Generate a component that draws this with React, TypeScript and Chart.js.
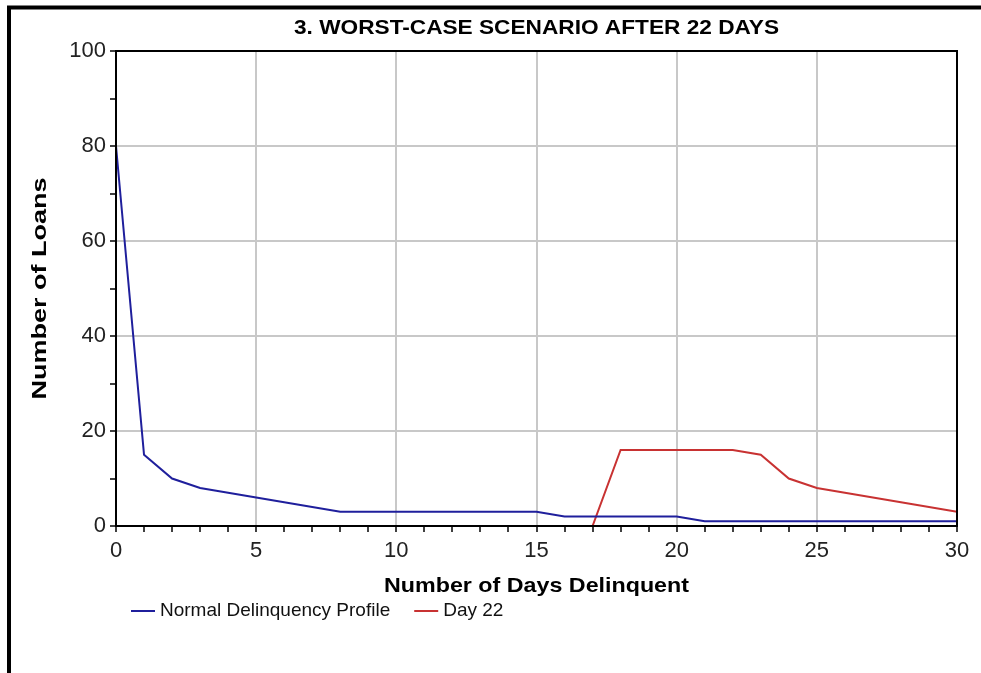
import React, { useEffect, useRef } from "react";
import { Chart, registerables } from "chart.js";

Chart.register(...registerables);

const days = Array.from({ length: 31 }, (_, i) => i);
const normalProfile = [80, 15, 10, 8, 7, 6, 5, 4, 3, 3, 3, 3, 3, 3, 3, 3, 2, 2, 2, 2, 2, 1, 1, 1, 1, 1, 1, 1, 1, 1, 1];
const day22 = [0, 0, 0, 0, 0, 0, 0, 0, 0, 0, 0, 0, 0, 0, 0, 0, 0, 0, 16, 16, 16, 16, 16, 15, 10, 8, 7, 6, 5, 4, 3];
const seriesLabels = ["Normal Delinquency Profile", "Day 22"];
const chartTitle = "3. WORST-CASE SCENARIO AFTER 22 DAYS";
const xTitle = "Number of Days Delinquent";
const yTitle = "Number of Loans";

const BLUE = "#1f1f9c";
const RED = "#c83232";
const GRID = "#c8c8c8";
const FONT = "'Liberation Sans', Arial, sans-serif";

function drawFitted(ctx: CanvasRenderingContext2D, text: string, cx: number, cy: number, width: number, font: string, rotate = 0) {
  ctx.save();
  ctx.font = font;
  const w = ctx.measureText(text).width;
  ctx.translate(cx, cy);
  if (rotate) ctx.rotate(rotate);
  ctx.scale(width / w, 1);
  ctx.textAlign = "center";
  ctx.textBaseline = "middle";
  ctx.fillStyle = "#000";
  ctx.fillText(text, 0, 0);
  ctx.restore();
}

const decorPlugin = {
  id: "decor",
  afterDraw(chart: any) {
    const { ctx, chartArea } = chart;
    const a = chartArea;
    ctx.save();
    ctx.strokeStyle = "#000";
    ctx.lineWidth = 2;
    ctx.strokeRect(a.left, a.top, a.right - a.left, a.bottom - a.top);
    ctx.lineWidth = 4;
    ctx.beginPath();
    ctx.moveTo(9, 673);
    ctx.lineTo(9, 7.5);
    ctx.lineTo(981, 7.5);
    ctx.stroke();
    ctx.restore();

    const cx = (a.left + a.right) / 2;
    const cy = (a.top + a.bottom) / 2;
    drawFitted(ctx, chartTitle, cx, 28, 485, `bold 21px ${FONT}`);
    drawFitted(ctx, xTitle, cx, 586, 305, `bold 21px ${FONT}`);
    drawFitted(ctx, yTitle, 40, cy, 222, `bold 21px ${FONT}`, -Math.PI / 2);

    ctx.save();
    ctx.font = `19px ${FONT}`;
    ctx.textBaseline = "middle";
    ctx.textAlign = "left";
    let x = 131;
    const y = 611;
    chart.data.datasets.forEach((ds: any) => {
      ctx.strokeStyle = ds.borderColor;
      ctx.lineWidth = 2;
      ctx.beginPath();
      ctx.moveTo(x, y);
      ctx.lineTo(x + 24, y);
      ctx.stroke();
      ctx.fillStyle = "#111";
      ctx.fillText(ds.label, x + 29, y);
      x += 29 + ctx.measureText(ds.label).width + 24;
    });
    ctx.restore();
  },
};

export default function App() {
  const ref = useRef<HTMLCanvasElement>(null);
  useEffect(() => {
    if (!ref.current) return;
    const chart = new Chart(ref.current, {
      type: "line",
      data: {
        labels: days,
        datasets: [
          {
            label: seriesLabels[0],
            data: days.map((d, i) => ({ x: d, y: normalProfile[i] })),
            borderColor: BLUE,
            backgroundColor: BLUE,
            borderWidth: 2,
            pointRadius: 0,
            tension: 0,
          },
          {
            label: seriesLabels[1],
            data: days.map((d, i) => ({ x: d, y: day22[i] })),
            borderColor: RED,
            backgroundColor: RED,
            borderWidth: 2,
            pointRadius: 0,
            tension: 0,
          },
        ],
      },
      options: {
        animation: false,
        responsive: false,
        layout: { padding: { left: 0, top: 51, right: 24, bottom: 0 } },
        plugins: { legend: { display: false }, title: { display: false }, tooltip: { enabled: false } },
        scales: {
          x: {
            type: "linear",
            min: 0,
            max: 30,
            afterFit: (s: any) => {
              s.height = 147;
            },
            ticks: {
              stepSize: 1,
              autoSkip: false,
              maxRotation: 0,
              padding: 6,
              color: "#222",
              font: { family: FONT, size: 22 },
              callback: (v: any) => (Number(v) % 5 === 0 ? String(v) : ""),
            },
            grid: {
              color: (c: any) => (c.tick && c.tick.value % 5 === 0 ? GRID : "rgba(0,0,0,0)"),
              lineWidth: 2,
              tickColor: "#000",
              tickWidth: 1.5,
              tickLength: 6,
            },
            border: { display: true, color: "#000", width: 2 },
          },
          y: {
            min: 0,
            max: 100,
            afterFit: (s: any) => {
              s.width = 116;
            },
            ticks: {
              stepSize: 10,
              autoSkip: false,
              padding: 4,
              color: "#222",
              font: { family: FONT, size: 22 },
              callback: (v: any) => (Number(v) % 20 === 0 ? String(v) : ""),
            },
            grid: {
              color: (c: any) => (c.tick && c.tick.value % 20 === 0 ? GRID : "rgba(0,0,0,0)"),
              lineWidth: 2,
              tickColor: "#000",
              tickWidth: 1.5,
              tickLength: 6,
            },
            border: { display: true, color: "#000", width: 2 },
          },
        },
      },
      plugins: [decorPlugin],
    });
    return () => chart.destroy();
  }, []);
  return (
    <div style={{ position: "fixed", left: 0, top: 0, width: 981, height: 673, background: "#fff" }}>
      <canvas ref={ref} width={981} height={673} />
    </div>
  );
}
